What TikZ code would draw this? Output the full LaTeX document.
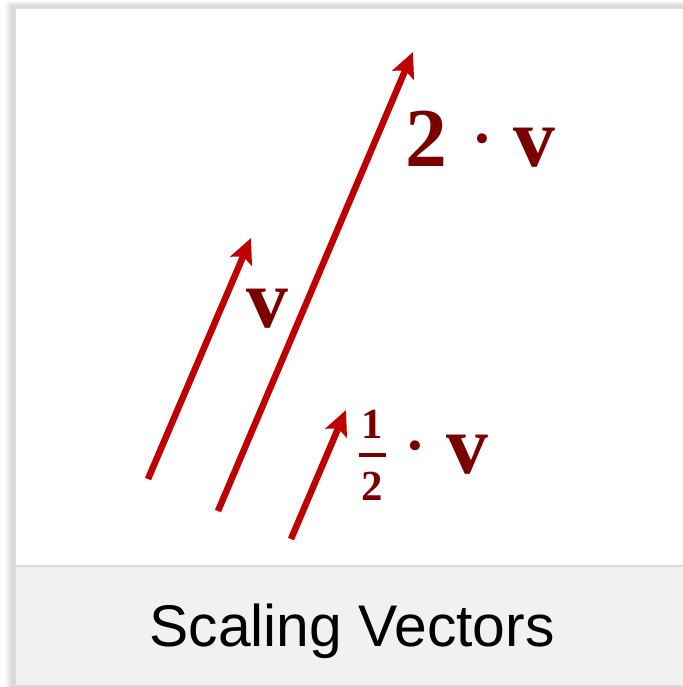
\documentclass[tikz,border=0pt]{standalone}
\usepackage{fontspec}
\setsansfont{Liberation Sans}
\newfontfamily\lblfont{Liberation Serif}
\usepackage{xcolor}
\definecolor{cVec}{HTML}{C00000}
\definecolor{cLabel}{HTML}{7A0000}
\definecolor{cBand}{HTML}{F1F1F1}
\definecolor{cEdge}{HTML}{DCDCDC}
\usetikzlibrary{positioning,arrows.meta}
\tikzset{
  vec/.style={-{Stealth[length=25bp,width=23bp,inset=5bp]},line width=6.5bp,draw=cVec},
  vec-label/.style={text=cLabel,inner sep=0pt,anchor=base west,
    font=\lblfont\bfseries\fontsize{84}{90}\selectfont},
  half-digit/.style={text=cLabel,inner sep=0pt,
    font=\lblfont\bfseries\fontsize{43}{43}\selectfont},
  frac-bar/.style={fill=cLabel,inner sep=0pt,minimum width=27bp,minimum height=3.8bp},
  card/.style={fill=white,draw=cEdge,line width=1.5bp},
  caption-band/.style={fill=cBand,draw=cEdge,line width=1.5bp},
  caption/.style={font=\sffamily\fontsize{59}{70}\selectfont,text=black},
}
\newcommand{\mdot}{{\mdseries ·}}

\begin{document}
\begin{tikzpicture}[x=1bp,y=-1bp]
  \useasboundingbox (0,0) rectangle (683,687);
  % soft shadow round the card
  \foreach \i in {1,...,10}
    \fill[black,opacity=0.018] (15-\i,8-0.7*\i) rectangle (700,700);
  \fill[card] (15,8) rectangle (700,686);
  \fill[caption-band] (15,566) rectangle (700,686);
  \draw[cEdge,line width=1.5bp] (15,8) -- (15,686);
  % vectors
  \coordinate (v-tail) at (148,479);
  \coordinate (v-tip) at (251,238);
  \coordinate (w-tail) at (218,511);
  \coordinate (w-tip) at (413,52);
  \coordinate (h-tail) at (291,539);
  \coordinate (h-tip) at (346,410);
  \draw[vec] (v-tail) -- (v-tip);
  \draw[vec] (w-tail) -- (w-tip);
  \draw[vec] (h-tail) -- (h-tip);
  % labels
  \node[vec-label] (v-lbl) at (246,327) {v};
  \node[vec-label] (w-lbl) at (405,166) {2\hspace{21bp}\mdot\hspace{18bp}v};
  \node[frac-bar] (h-bar) at (372.5,455) {};
  \node[half-digit,above=14bp of h-bar] (h-num) {1};
  \node[half-digit,below=15bp of h-bar] (h-den) {2};
  \node[vec-label] (h-lbl) at (401,473) {\mdot\hspace{17bp}v};
  \node[caption] (title) at (352,631) {Scaling Vectors};
\end{tikzpicture}
\end{document}
